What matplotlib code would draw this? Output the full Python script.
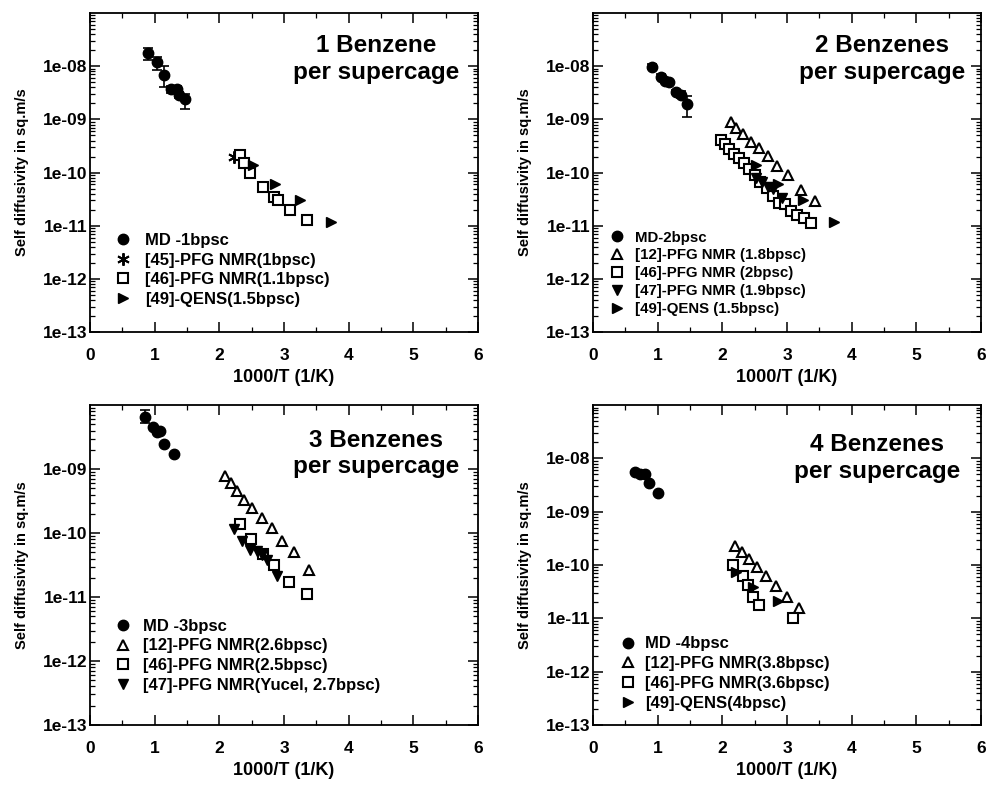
import matplotlib
matplotlib.use('Agg')
import matplotlib.pyplot as plt
import numpy as np
from matplotlib.ticker import LogLocator, NullFormatter, FuncFormatter, MultipleLocator

plt.rcParams['font.family'] = ['Liberation Sans', 'DejaVu Sans']
plt.rcParams['font.weight'] = 'bold'

# ---- panel 1 : 1 benzene per supercage
md1_x = [0.89, 1.03, 1.14, 1.26, 1.34, 1.38, 1.47]
md1_d = [1.75e-8, 1.2e-8, 6.8e-9, 3.7e-9, 3.7e-9, 2.9e-9, 2.4e-9]
md1_lo = [1.3e-8, 8.5e-9, 4.1e-9, 3.2e-9, 3.2e-9, 2.5e-9, 1.6e-9]
md1_hi = [2.2e-8, 1.5e-8, 1.0e-8, 4.2e-9, 4.2e-9, 3.3e-9, 3.0e-9]
nmr45_x = [2.23]
nmr45_d = [2.0e-10]
nmr46a_x = [2.32, 2.38, 2.47, 2.67, 2.84, 2.91, 3.09, 3.36]
nmr46a_d = [2.14e-10, 1.5e-10, 9.7e-11, 5.3e-11, 3.5e-11, 3.05e-11, 2.0e-11, 1.29e-11]
qens15_x = [2.52, 2.86, 3.24, 3.72]
qens15_d = [1.39e-10, 6.1e-11, 3.05e-11, 1.2e-11]

# ---- panel 2 : 2 benzenes per supercage
md2_x = [0.91, 1.05, 1.11, 1.18, 1.28, 1.36, 1.46]
md2_d = [9.8e-9, 6.4e-9, 5.3e-9, 5.1e-9, 3.3e-9, 2.9e-9, 1.95e-9]
md2_lo = [8.8e-9, 5.8e-9, 4.8e-9, 4.6e-9, 3.0e-9, 2.5e-9, 1.1e-9]
md2_hi = [1.08e-8, 7.0e-9, 5.8e-9, 5.6e-9, 3.6e-9, 3.4e-9, 2.7e-9]
nmr12b_x = [2.13, 2.21, 2.32, 2.44, 2.56, 2.70, 2.85, 3.02, 3.21, 3.43]
nmr12b_d = [9.1e-10, 6.8e-10, 5.3e-10, 3.8e-10, 2.86e-10, 2.05e-10, 1.33e-10, 9.0e-11, 4.7e-11, 2.9e-11]
nmr46b_x = [1.98, 2.04, 2.11, 2.18, 2.26, 2.34, 2.42, 2.51, 2.59, 2.69, 2.78, 2.88, 2.97, 3.06, 3.16, 3.27, 3.37]
nmr46b_d = [4.1e-10, 3.4e-10, 2.74e-10, 2.24e-10, 1.86e-10, 1.5e-10, 1.15e-10, 9.0e-11, 6.7e-11,
            5.1e-11, 3.6e-11, 2.7e-11, 2.57e-11, 1.92e-11, 1.6e-11, 1.38e-11, 1.11e-11]
nmr47b_x = [2.52, 2.61, 2.70, 2.78, 2.92]
nmr47b_d = [7.8e-11, 6.5e-11, 5.4e-11, 4.85e-11, 3.3e-11]

# ---- panel 3 : 3 benzenes per supercage
md3_x = [0.85, 0.97, 1.03, 1.09, 1.14, 1.30]
md3_d = [6.6e-9, 4.6e-9, 3.85e-9, 4.0e-9, 2.46e-9, 1.75e-9]
md3_lo = [5.2e-9, 4.6e-9, 3.85e-9, 4.0e-9, 2.46e-9, 1.75e-9]
md3_hi = [8.3e-9, 4.6e-9, 3.85e-9, 4.0e-9, 2.46e-9, 1.75e-9]
nmr12c_x = [2.09, 2.18, 2.27, 2.38, 2.51, 2.66, 2.82, 2.97, 3.16, 3.39]
nmr12c_d = [7.7e-10, 6.0e-10, 4.5e-10, 3.27e-10, 2.45e-10, 1.74e-10, 1.21e-10, 7.5e-11, 5.0e-11, 2.66e-11]
nmr46c_x = [2.32, 2.49, 2.67, 2.85, 3.08, 3.35]
nmr46c_d = [1.4e-10, 8.2e-11, 4.7e-11, 3.18e-11, 1.7e-11, 1.13e-11]
nmr47c_x = [2.23, 2.35, 2.47, 2.59, 2.66, 2.73, 2.89]
nmr47c_d = [1.14e-10, 7.5e-11, 5.5e-11, 5.2e-11, 4.5e-11, 3.8e-11, 2.1e-11]

# ---- panel 4 : 4 benzenes per supercage
md4_x = [0.65, 0.72, 0.80, 0.87, 1.00]
md4_d = [5.6e-9, 5.0e-9, 5.2e-9, 3.4e-9, 2.2e-9]
nmr12d_x = [2.19, 2.30, 2.42, 2.54, 2.68, 2.83, 3.00, 3.18]
nmr12d_d = [2.3e-10, 1.72e-10, 1.29e-10, 9.3e-11, 6.3e-11, 4.1e-11, 2.54e-11, 1.58e-11]
nmr46d_x = [2.16, 2.32, 2.40, 2.48, 2.56, 3.10]
nmr46d_d = [1.0e-10, 6.3e-11, 4.2e-11, 2.54e-11, 1.77e-11, 1.0e-11]
qens4_x = [2.21, 2.48, 2.86]
qens4_d = [7.3e-11, 3.9e-11, 2.1e-11]

ms = 7.5
mew = 1.5


def md_errorbar(ax, x, d, lo, hi, label):
    d = np.array(d)
    err = [d - np.array(lo), np.array(hi) - d]
    h = ax.errorbar(x, d, yerr=err, fmt='o', color='k', ms=ms, capsize=3.5,
                    elinewidth=1.2, capthick=1.2)
    h[0].set_label(label)
    return h[0]


def open_marker(ax, x, d, m, label, size=ms):
    return ax.plot(x, d, m, ls='none', mfc='white', mec='k', mew=mew, ms=size, label=label)[0]


def filled_marker(ax, x, d, m, label, size=ms):
    return ax.plot(x, d, m, ls='none', color='k', ms=size, label=label)[0]


def style(ax, top):
    ax.set_yscale('log')
    ax.set_xlim(0, 6)
    ax.set_ylim(1e-13, top)
    ax.xaxis.set_major_locator(MultipleLocator(1))
    ax.xaxis.set_minor_locator(MultipleLocator(0.5))
    decades = [10.0 ** e for e in range(-13, int(round(np.log10(top))))]
    ax.set_yticks(decades)
    ax.yaxis.set_major_formatter(FuncFormatter(lambda v, p: '%.0e' % v))
    ax.yaxis.set_minor_locator(LogLocator(base=10, subs=np.arange(2, 10), numticks=100))
    ax.yaxis.set_minor_formatter(NullFormatter())
    ax.tick_params(which='both', direction='in', top=True, right=True, labelsize=12.5)
    ax.tick_params(which='major', length=7, width=1.1)
    ax.tick_params(which='minor', length=3.5, width=0.9)
    ax.tick_params(axis='x', which='major', pad=11.5)
    ax.tick_params(axis='y', which='major', pad=2)
    for s in ax.spines.values():
        s.set_linewidth(1.3)
    ax.set_xlabel('1000/T (1/K)', fontsize=13, fontweight='bold', labelpad=4)
    ax.set_ylabel('Self diffusivity in sq.m/s', fontsize=10.5, fontweight='bold', labelpad=10)


def panel_title(ax, x, y, s):
    ax.text(x, y, s, transform=ax.transAxes, ha='center', va='center',
            fontsize=17.5, fontweight='bold', linespacing=1.2)


def panel_legend(ax, hs, x0, y0, size, pad, spacing):
    ax.legend(handles=hs, loc='lower left', bbox_to_anchor=(x0, y0), frameon=False,
              prop={'weight': 'bold', 'size': size}, handletextpad=pad, handlelength=1.2,
              borderaxespad=0, borderpad=0, labelspacing=spacing)


fig = plt.figure(figsize=(9.87, 7.85), dpi=100)
ax1 = fig.add_axes([0.0912, 0.577, 0.3931, 0.4064])
ax2 = fig.add_axes([0.6008, 0.577, 0.3931, 0.4064])
ax3 = fig.add_axes([0.0912, 0.0764, 0.3931, 0.4076])
ax4 = fig.add_axes([0.6008, 0.0764, 0.3931, 0.4076])

# panel 1
hs = [md_errorbar(ax1, md1_x, md1_d, md1_lo, md1_hi, 'MD -1bpsc'),
      ax1.plot(nmr45_x, nmr45_d, marker=(6, 2, 0), ls='none', color='k', mew=1.4, ms=9,
               label='[45]-PFG NMR(1bpsc)')[0],
      open_marker(ax1, nmr46a_x, nmr46a_d, 's', '[46]-PFG NMR(1.1bpsc)', size=6.5),
      filled_marker(ax1, qens15_x, qens15_d, '>', '[49]-QENS(1.5bpsc)')]
style(ax1, 1e-7)
panel_title(ax1, 0.737, 0.855, '1 Benzene\nper supercage')
panel_legend(ax1, hs, 0.059, 0.08, 12, 0.72, 0.27)

# panel 2
hs = [md_errorbar(ax2, md2_x, md2_d, md2_lo, md2_hi, 'MD-2bpsc'),
      open_marker(ax2, nmr12b_x, nmr12b_d, '^', '[12]-PFG NMR (1.8bpsc)'),
      open_marker(ax2, nmr46b_x, nmr46b_d, 's', '[46]-PFG NMR (2bpsc)', size=6.5),
      filled_marker(ax2, nmr47b_x, nmr47b_d, 'v', '[47]-PFG NMR (1.9bpsc)'),
      filled_marker(ax2, qens15_x, qens15_d, '>', '[49]-QENS (1.5bpsc)')]
style(ax2, 1e-7)
panel_title(ax2, 0.745, 0.855, '2 Benzenes\nper supercage')
panel_legend(ax2, hs, 0.039, 0.05, 10.8, 0.6, 0.26)

# panel 3
hs = [md_errorbar(ax3, md3_x, md3_d, md3_lo, md3_hi, 'MD -3bpsc'),
      open_marker(ax3, nmr12c_x, nmr12c_d, '^', '[12]-PFG NMR(2.6bpsc)'),
      open_marker(ax3, nmr46c_x, nmr46c_d, 's', '[46]-PFG NMR(2.5bpsc)', size=6.5),
      filled_marker(ax3, nmr47c_x, nmr47c_d, 'v', '[47]-PFG NMR(Yucel, 2.7bpsc)')]
style(ax3, 1e-8)
panel_title(ax3, 0.737, 0.848, '3 Benzenes\nper supercage')
panel_legend(ax3, hs, 0.059, 0.10, 12, 0.6, 0.29)

# panel 4
hs = [filled_marker(ax4, md4_x, md4_d, 'o', 'MD -4bpsc'),
      open_marker(ax4, nmr12d_x, nmr12d_d, '^', '[12]-PFG NMR(3.8bpsc)'),
      open_marker(ax4, nmr46d_x, nmr46d_d, 's', '[46]-PFG NMR(3.6bpsc)', size=6.5),
      filled_marker(ax4, qens4_x, qens4_d, '>', '[49]-QENS(4bpsc)')]
style(ax4, 1e-7)
panel_title(ax4, 0.732, 0.835, '4 Benzenes\nper supercage')
panel_legend(ax4, hs, 0.064, 0.044, 12, 0.42, 0.29)

fig.savefig('out.png', dpi=100)
